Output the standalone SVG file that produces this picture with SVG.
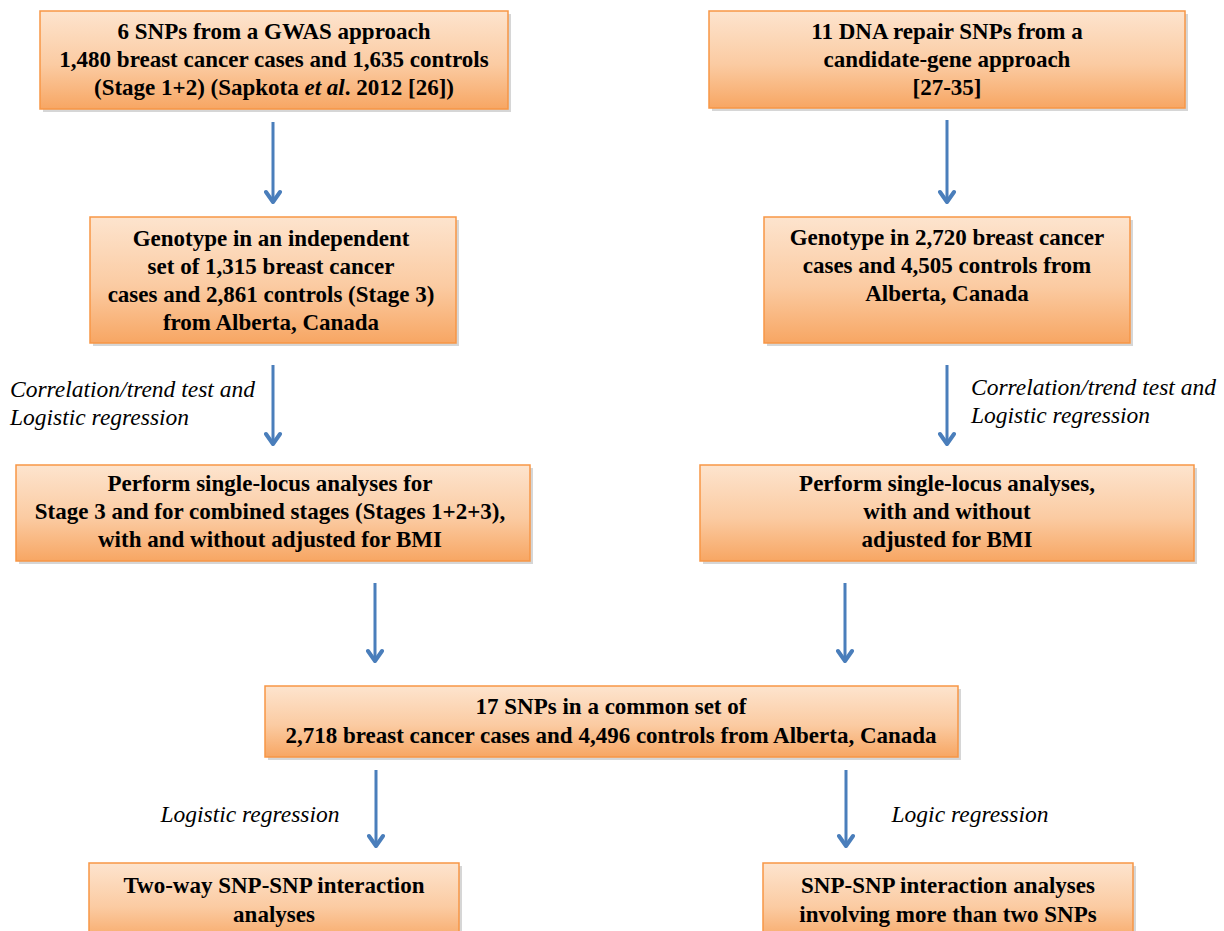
<svg xmlns="http://www.w3.org/2000/svg" width="1224" height="931" viewBox="0 0 1224 931">
<defs>
<linearGradient id="g" x1="0" y1="0" x2="0" y2="1">
<stop offset="0" stop-color="#FDE4CE"/>
<stop offset="0.55" stop-color="#FBCBA2"/>
<stop offset="1" stop-color="#F7A663"/>
</linearGradient>
</defs>
<rect width="1224" height="931" fill="#fff"/>
<g id="shadows" fill="#000" fill-opacity="0.16">
<rect x="43" y="14" width="468" height="98"/>
<rect x="712" y="14" width="476" height="97"/>
<rect x="93" y="220" width="366" height="126"/>
<rect x="767" y="220" width="366" height="126"/>
<rect x="19" y="468" width="514" height="96"/>
<rect x="703" y="468" width="494" height="96"/>
<rect x="268" y="689" width="693" height="71"/>
<rect x="92" y="866" width="370" height="80"/>
<rect x="766" y="866" width="370" height="80"/>
</g>
<g id="connectors">
<path d="M273,122V201M947,120V201M273,365V443M947,365V443M375,583V660M845,583V660M376,770V845M846,770V845" stroke="#4A7EBB" stroke-width="3" fill="none"/>
<path d="M266,192L273,202L280,192M940,192L947,202L954,192M266,434L273,444L280,434M940,434L947,444L954,434M368,651L375,661L382,651M838,651L845,661L852,651M369,836L376,846L383,836M839,836L846,846L853,836" stroke="#4A7EBB" stroke-width="4" fill="none" stroke-linecap="round" stroke-linejoin="round"/>
<text style="font-family:'Liberation Serif',serif !important" font-family="'Liberation Serif'" font-style="italic" font-size="23.5" x="10" y="397">Correlation/trend test and</text>
<text style="font-family:'Liberation Serif',serif !important" font-family="'Liberation Serif'" font-style="italic" font-size="23.5" x="10" y="425">Logistic regression</text>
<text style="font-family:'Liberation Serif',serif !important" font-family="'Liberation Serif'" font-style="italic" font-size="23.5" x="971" y="395">Correlation/trend test and</text>
<text style="font-family:'Liberation Serif',serif !important" font-family="'Liberation Serif'" font-style="italic" font-size="23.5" x="971" y="423">Logistic regression</text>
<text style="font-family:'Liberation Serif',serif !important" font-family="'Liberation Serif'" font-style="italic" font-size="23.5" x="250" y="822" text-anchor="middle">Logistic regression</text>
<text style="font-family:'Liberation Serif',serif !important" font-family="'Liberation Serif'" font-style="italic" font-size="23.5" x="970" y="822" text-anchor="middle">Logic regression</text>
</g>
<g id="n1">
<rect x="40" y="11" width="468" height="98" fill="url(#g)" stroke="#F79646" stroke-width="1.5"/>
<text style="font-family:'Liberation Serif',serif !important" font-family="'Liberation Serif'" font-weight="bold" font-size="23" text-anchor="middle" x="274" y="39">6 SNPs from a GWAS approach</text>
<text style="font-family:'Liberation Serif',serif !important" font-family="'Liberation Serif'" font-weight="bold" font-size="23" text-anchor="middle" x="274" y="67">1,480 breast cancer cases and 1,635 controls</text>
<text style="font-family:'Liberation Serif',serif !important" font-family="'Liberation Serif'" font-weight="bold" font-size="23" text-anchor="middle" x="274" y="95">(Stage 1+2) (Sapkota <tspan font-style="italic">et al</tspan>. 2012 [26])</text>
</g>
<g id="n2">
<rect x="709" y="11" width="476" height="97" fill="url(#g)" stroke="#F79646" stroke-width="1.5"/>
<text style="font-family:'Liberation Serif',serif !important" font-family="'Liberation Serif'" font-weight="bold" font-size="23" text-anchor="middle" x="947" y="39">11 DNA repair SNPs from a</text>
<text style="font-family:'Liberation Serif',serif !important" font-family="'Liberation Serif'" font-weight="bold" font-size="23" text-anchor="middle" x="947" y="67">candidate-gene approach</text>
<text style="font-family:'Liberation Serif',serif !important" font-family="'Liberation Serif'" font-weight="bold" font-size="23" text-anchor="middle" x="947" y="95">[27-35]</text>
</g>
<g id="n3">
<rect x="90" y="217" width="366" height="126" fill="url(#g)" stroke="#F79646" stroke-width="1.5"/>
<text style="font-family:'Liberation Serif',serif !important" font-family="'Liberation Serif'" font-weight="bold" font-size="23" text-anchor="middle" x="271" y="246">Genotype in an independent</text>
<text style="font-family:'Liberation Serif',serif !important" font-family="'Liberation Serif'" font-weight="bold" font-size="23" text-anchor="middle" x="271" y="274">set of 1,315 breast cancer</text>
<text style="font-family:'Liberation Serif',serif !important" font-family="'Liberation Serif'" font-weight="bold" font-size="23" text-anchor="middle" x="271" y="302">cases and 2,861 controls (Stage 3)</text>
<text style="font-family:'Liberation Serif',serif !important" font-family="'Liberation Serif'" font-weight="bold" font-size="23" text-anchor="middle" x="271" y="330">from Alberta, Canada</text>
</g>
<g id="n4">
<rect x="764" y="217" width="366" height="126" fill="url(#g)" stroke="#F79646" stroke-width="1.5"/>
<text style="font-family:'Liberation Serif',serif !important" font-family="'Liberation Serif'" font-weight="bold" font-size="23" text-anchor="middle" x="947" y="245">Genotype in 2,720 breast cancer</text>
<text style="font-family:'Liberation Serif',serif !important" font-family="'Liberation Serif'" font-weight="bold" font-size="23" text-anchor="middle" x="947" y="273">cases and 4,505 controls from</text>
<text style="font-family:'Liberation Serif',serif !important" font-family="'Liberation Serif'" font-weight="bold" font-size="23" text-anchor="middle" x="947" y="301">Alberta, Canada</text>
</g>
<g id="n5">
<rect x="16" y="465" width="514" height="96" fill="url(#g)" stroke="#F79646" stroke-width="1.5"/>
<text style="font-family:'Liberation Serif',serif !important" font-family="'Liberation Serif'" font-weight="bold" font-size="23" text-anchor="middle" x="270" y="491">Perform single-locus analyses for</text>
<text style="font-family:'Liberation Serif',serif !important" font-family="'Liberation Serif'" font-weight="bold" font-size="23" text-anchor="middle" x="270" y="519">Stage 3 and for combined stages (Stages 1+2+3),</text>
<text style="font-family:'Liberation Serif',serif !important" font-family="'Liberation Serif'" font-weight="bold" font-size="23" text-anchor="middle" x="270" y="547">with and without adjusted for BMI</text>
</g>
<g id="n6">
<rect x="700" y="465" width="494" height="96" fill="url(#g)" stroke="#F79646" stroke-width="1.5"/>
<text style="font-family:'Liberation Serif',serif !important" font-family="'Liberation Serif'" font-weight="bold" font-size="23" text-anchor="middle" x="947" y="491">Perform single-locus analyses,</text>
<text style="font-family:'Liberation Serif',serif !important" font-family="'Liberation Serif'" font-weight="bold" font-size="23" text-anchor="middle" x="947" y="519">with and without</text>
<text style="font-family:'Liberation Serif',serif !important" font-family="'Liberation Serif'" font-weight="bold" font-size="23" text-anchor="middle" x="947" y="547">adjusted for BMI</text>
</g>
<g id="n7">
<rect x="265" y="686" width="693" height="71" fill="url(#g)" stroke="#F79646" stroke-width="1.5"/>
<text style="font-family:'Liberation Serif',serif !important" font-family="'Liberation Serif'" font-weight="bold" font-size="23" text-anchor="middle" x="611" y="714">17 SNPs in a common set of</text>
<text style="font-family:'Liberation Serif',serif !important" font-family="'Liberation Serif'" font-weight="bold" font-size="23" text-anchor="middle" x="611" y="743">2,718 breast cancer cases and 4,496 controls from Alberta, Canada</text>
</g>
<g id="n8">
<rect x="89" y="863" width="370" height="80" fill="url(#g)" stroke="#F79646" stroke-width="1.5"/>
<text style="font-family:'Liberation Serif',serif !important" font-family="'Liberation Serif'" font-weight="bold" font-size="23" text-anchor="middle" x="274" y="893">Two-way SNP-SNP interaction</text>
<text style="font-family:'Liberation Serif',serif !important" font-family="'Liberation Serif'" font-weight="bold" font-size="23" text-anchor="middle" x="274" y="922">analyses</text>
</g>
<g id="n9">
<rect x="763" y="863" width="370" height="80" fill="url(#g)" stroke="#F79646" stroke-width="1.5"/>
<text style="font-family:'Liberation Serif',serif !important" font-family="'Liberation Serif'" font-weight="bold" font-size="23" text-anchor="middle" x="948" y="893">SNP-SNP interaction analyses</text>
<text style="font-family:'Liberation Serif',serif !important" font-family="'Liberation Serif'" font-weight="bold" font-size="23" text-anchor="middle" x="948" y="922">involving more than two SNPs</text>
</g>
</svg>
